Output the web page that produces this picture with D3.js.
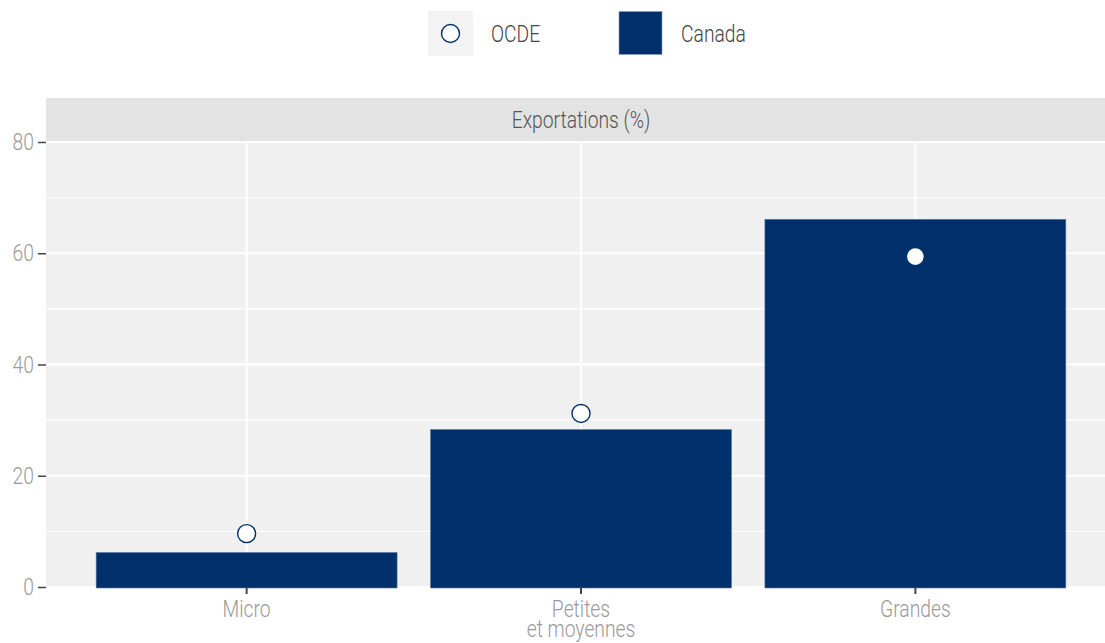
<!DOCTYPE html>
<html><head><meta charset="utf-8">
<script src="https://cdn.jsdelivr.net/npm/d3@7"></script>
<style>
body{margin:0;background:#fff;}
text{font-family:"Roboto",sans-serif;font-weight:300;}
</style></head>
<body>
<svg id="chart" width="1105" height="643"></svg>
<script>
const categories = ["Micro", "Petites\net moyennes", "Grandes"];
const canadaValues = [6.2, 28.3, 66.1];
const ocdeValues = [9.6, 31.2, 59.4];
const yTicks = [0, 20, 40, 60, 80];
const stripTitle = "Exportations (%)";
const legendLabels = ["OCDE", "Canada"];

const navy = "#00306b";
const SX = 0.84, FS = 23;
const svg = d3.select("#chart");
const pLeft = 46, pTop = 142, pBottom = 587, panelW = 1070;

const x = d3.scaleBand().domain(categories).range([pLeft, pLeft + panelW]).paddingInner(0.1).paddingOuter(0.15);
const xc = d => x(d) + x.bandwidth() / 2;
const y = d3.scaleLinear().domain([0, 80]).range([pBottom, pTop]);

// condensed text helper
function ctext(parent, tx, ty, str, anchor, fill) {
  return parent.append("text")
    .attr("transform", `translate(${tx},${ty}) scale(${SX},1)`)
    .attr("text-anchor", anchor).attr("font-size", FS).attr("fill", fill).text(str);
}

// strip
svg.append("rect").attr("x", pLeft).attr("y", 98).attr("width", panelW).attr("height", pTop - 98).attr("fill", "#e3e3e3");
ctext(svg, pLeft + panelW / 2, 128, stripTitle, "middle", "#555");

// panel
svg.append("rect").attr("x", pLeft).attr("y", pTop).attr("width", panelW).attr("height", pBottom - pTop).attr("fill", "#f0f0f0");
const grid = svg.append("g");
d3.range(0, 81, 10).forEach(v => {
  grid.append("line").attr("x1", pLeft).attr("x2", pLeft + panelW).attr("y1", y(v)).attr("y2", y(v))
    .attr("stroke", "#fff").attr("stroke-width", v % 20 === 0 ? 2 : 1.2);
});
categories.forEach(c => {
  grid.append("line").attr("x1", xc(c)).attr("x2", xc(c)).attr("y1", pTop).attr("y2", pBottom)
    .attr("stroke", "#fff").attr("stroke-width", 2);
});

// bars
svg.append("g").selectAll("rect").data(categories).join("rect")
  .attr("x", d => x(d)).attr("width", x.bandwidth())
  .attr("y", (d, i) => y(canadaValues[i])).attr("height", (d, i) => y(0) - y(canadaValues[i]) + 1)
  .attr("fill", navy).attr("stroke", "#5a78a0").attr("stroke-width", 0.6);

// points
svg.append("g").selectAll("circle").data(categories).join("circle")
  .attr("cx", d => xc(d)).attr("cy", (d, i) => y(ocdeValues[i])).attr("r", 9)
  .attr("fill", "#fff").attr("stroke", navy).attr("stroke-width", 1.4);

// y axis
const ya = svg.append("g").attr("transform", `translate(${pLeft},0)`)
  .call(d3.axisLeft(y).tickValues(yTicks).tickSize(8).tickFormat(""));
ya.select(".domain").remove();
ya.selectAll(".tick line").attr("stroke", "#444").attr("stroke-width", 1.5);
yTicks.forEach(v => ctext(svg, 34, y(v) + 8, String(v), "end", "#9a9a9a"));

// x axis
const xa = svg.append("g").attr("transform", `translate(0,${pBottom})`)
  .call(d3.axisBottom(x).tickSize(7).tickFormat(""));
xa.select(".domain").remove();
xa.selectAll(".tick line").attr("stroke", "#444").attr("stroke-width", 2);
categories.forEach(c => {
  c.split("\n").forEach((line, i) => ctext(svg, xc(c), 617 + i * 20, line, "middle", "#9a9a9a"));
});

// legend
const lg = svg.append("g");
lg.append("rect").attr("x", 428).attr("y", 11).attr("width", 45).attr("height", 45).attr("fill", "#f3f3f3");
lg.append("circle").attr("cx", 450.5).attr("cy", 33.5).attr("r", 9).attr("fill", "#fff").attr("stroke", navy).attr("stroke-width", 1.4);
ctext(lg, 491, 42, legendLabels[0], "start", "#444");
lg.append("rect").attr("x", 619).attr("y", 11.5).attr("width", 43).attr("height", 43).attr("fill", navy).attr("stroke", "#8fa2bd").attr("stroke-width", 0.6);
ctext(lg, 681, 42, legendLabels[1], "start", "#444");
</script>
</body></html>
